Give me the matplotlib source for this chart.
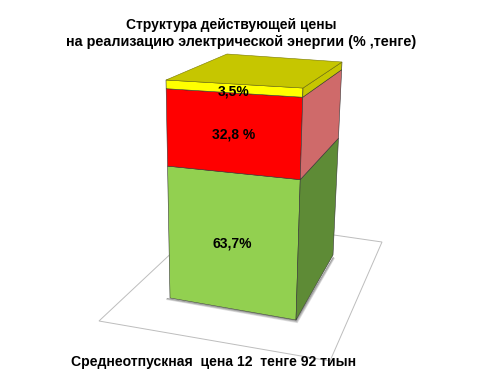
import numpy as np
import matplotlib
matplotlib.use("Agg")
import matplotlib.pyplot as plt
from matplotlib.patches import Polygon

plt.rcParams["font.family"] = ["Liberation Sans", "DejaVu Sans"]

# ── Data ──────────────────────────────────────────────────────────────────
title_lines = ["Структура действующей цены",
               "на реализацию электрической энергии (% ,тенге)"]
category = "Среднеотпускная  цена 12  тенге 92 тиын"
shares = [63.7, 32.8, 3.5]
share_labels = ["63,7%", "32,8 %", "3,5%"]
front_colors = ["#92D050", "#FF0000", "#FFFF00"]
side_colors = ["#5E8B36", "#CF6A6A", "#C6C600"]
top_color = "#C6C600"

# ── Geometry of the 3D box (pixel coordinates of the image) ───────────────
FL = (np.array([170, 298]), np.array([166, 80]))    # front-left  bottom/top
FR = (np.array([296, 320]), np.array([303, 88]))    # front-right bottom/top
BR = (np.array([333, 255]), np.array([342, 62]))    # back-right  bottom/top
BL_TOP = np.array([227, 54])
FLOOR = [(99, 321), (330, 361), (382, 242), (210, 217)]
DEPTH = 1.146   # perspective depth ratio top/bottom of the box


def edge(e, f):
    # perspective-correct position along a vertical edge
    s = f / ((1 - f) * DEPTH + f)
    return e[0] + (e[1] - e[0]) * s


fig = plt.figure(figsize=(4.82, 3.82), dpi=100)
ax = fig.add_axes([0, 0, 1, 1])
ax.set_xlim(0, 482)
ax.set_ylim(382, 0)
ax.axis("off")

# floor outline
ax.add_patch(Polygon(FLOOR, closed=True, fill=False, ec="#BDBDBD", lw=0.7))

# soft shadow along the bottom edges
for k in range(4):
    off = 0.8 + k * 0.8
    pts = [FL[0] + [-3, 0], FR[0], BR[0] + [0, 2],
           BR[0] + [off * 0.6, 2 + off * 0.4], FR[0] + [off * 0.5, off],
           FL[0] + [-3 - off * 0.3, off * 0.6]]
    ax.add_patch(Polygon(pts, closed=True, fc="black", ec="none",
                         alpha=0.12, zorder=1))

cum = np.concatenate([[0], np.cumsum(shares)]) / sum(shares)
for i, (lo, hi) in enumerate(zip(cum[:-1], cum[1:])):
    front = [edge(FL, lo), edge(FR, lo), edge(FR, hi), edge(FL, hi)]
    side = [edge(FR, lo), edge(BR, lo), edge(BR, hi), edge(FR, hi)]
    ax.add_patch(Polygon(front, closed=True, fc=front_colors[i],
                         ec="#333333", lw=0.4, zorder=3))
    ax.add_patch(Polygon(side, closed=True, fc=side_colors[i],
                         ec="#333333", lw=0.4, zorder=3))
    c = np.mean(front, axis=0)
    dy = 3 if i != 1 else 2
    ax.text(c[0] - 1, c[1] + dy, share_labels[i], ha="center", va="center",
            fontsize=10, fontweight="bold", zorder=5)

top = [edge(FL, 1), edge(FR, 1), edge(BR, 1), BL_TOP]
ax.add_patch(Polygon(top, closed=True, fc=top_color, ec="#777700",
                     lw=0.4, zorder=3))

ax.text(231, 25, title_lines[0], ha="center", va="center", fontsize=10,
        fontweight="bold")
ax.text(241, 42, title_lines[1], ha="center", va="center", fontsize=10.4,
        fontweight="bold")
ax.text(214, 362, category, ha="center", va="center", fontsize=10.1,
        fontweight="bold")

fig.savefig("out.png", dpi=100)
